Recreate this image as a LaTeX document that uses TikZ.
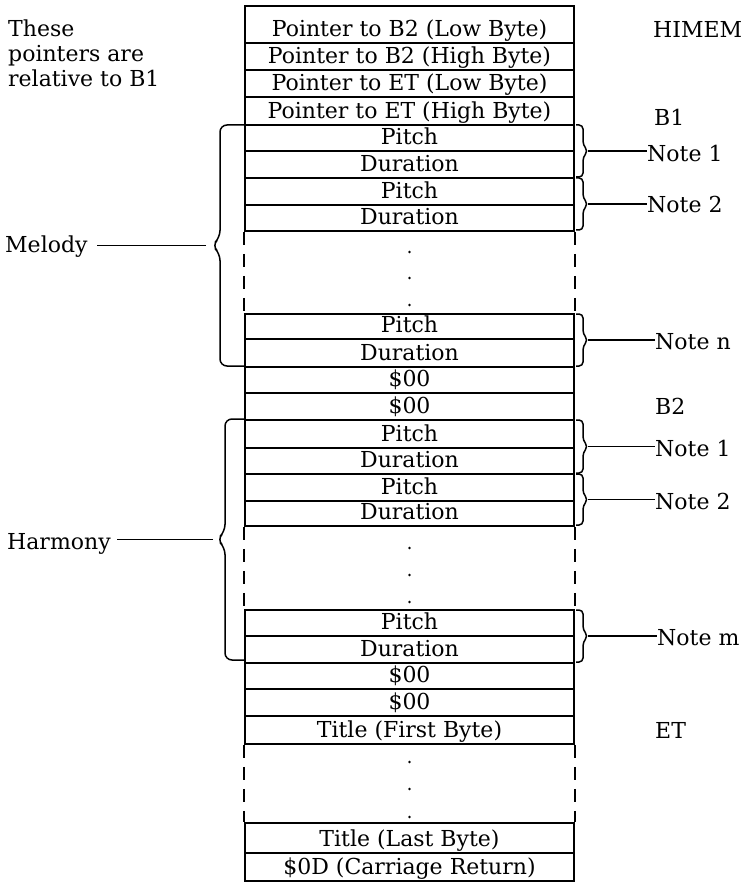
\documentclass[tikz,border=0pt]{standalone}
\usepackage{fontspec}
\setmainfont{DejaVu Serif}
\begin{document}
\begin{tikzpicture}[x=1pt,y=-1pt,
  txt/.style={font=\fontsize{22}{25}\selectfont},
  cell/.style={txt, draw, line width=1.8pt, minimum width=329pt, inner sep=0pt, anchor=north, text depth=6pt},
  lbl/.style={txt, inner sep=0pt, anchor=base west},
  side/.style={line width=1.8pt, dash pattern=on 13pt off 9pt},
  brc/.style={line width=1.5pt, rounded corners=4pt},
  bigbrc/.style={line width=1.5pt, rounded corners=7pt},
  conn/.style={line width=1.3pt},
  dot/.style={circle, fill, inner sep=0pt, minimum size=2.8pt}
]
\useasboundingbox (0,0) rectangle (746,882);
\def\cx{409.5}
% ---- memory cells ----
\node[cell, text height=31pt] (r1) at (\cx,5) {Pointer to B2 (Low Byte)};
\node[cell, text height=21pt] (r2) at (\cx,42) {Pointer to B2 (High Byte)};
\node[cell, text height=21pt] (r3) at (\cx,69) {Pointer to ET (Low Byte)};
\node[cell, text height=22pt] (r4) at (\cx,96) {Pointer to ET (High Byte)};
\node[cell, text height=20pt] (r5) at (\cx,124) {Pitch};
\node[cell, text height=21pt] (r6) at (\cx,150) {Duration};
\node[cell, text height=21pt] (r7) at (\cx,177) {Pitch};
\node[cell, text height=20pt] (r8) at (\cx,204) {Duration};
\node[cell, text height=19pt] (r9) at (\cx,313) {Pitch};
\node[cell, text height=22pt] (r10) at (\cx,338) {Duration};
\node[cell, text height=20pt] (r11) at (\cx,366) {\$00};
\node[cell, text height=21pt] (r12) at (\cx,392) {\$00};
\node[cell, text height=22pt] (r13) at (\cx,419) {Pitch};
\node[cell, text height=20pt] (r14) at (\cx,447) {Duration};
\node[cell, text height=21pt] (r15) at (\cx,473) {Pitch};
\node[cell, text height=19pt] (r16) at (\cx,500) {Duration};
\node[cell, text height=20pt] (r17) at (\cx,609) {Pitch};
\node[cell, text height=21pt] (r18) at (\cx,635) {Duration};
\node[cell, text height=20pt] (r19) at (\cx,662) {\$00};
\node[cell, text height=21pt] (r20) at (\cx,688) {\$00};
\node[cell, text height=22pt] (r21) at (\cx,715) {Title (First Byte)};
\node[cell, text height=24pt] (r22) at (\cx,822) {Title (Last Byte)};
\node[cell, text height=22pt] (r23) at (\cx,852) {\$0D (Carriage Return)};
% ---- dashed gaps ----
\foreach \a/\b in {r8/r9, r16/r17, r21/r22}{
  \draw[side] (\a.south west) -- (\b.north west);
  \draw[side] (\a.south east) -- (\b.north east);
}
% ---- ellipsis dots ----
\foreach \y [count=\i] in {252,278,305,548,575,602,762,789,817}
  \node[dot] (d\i) at (\cx,\y) {};
% ---- left text ----
\node[lbl] (t1) at (8,37) {These};
\node[lbl] (t2) at (8,62) {pointers are};
\node[lbl] (t3) at (8,87) {relative to B1};
% ---- address labels ----
\node[lbl] (himem) at (653,38) {HIMEM};
\node[lbl] (b1) at (654,126) {B1};
\node[lbl] (b2) at (655,414) {B2};
\node[lbl] (et) at (655,738) {ET};
% ---- right braces (notes) ----
\newcommand\rbr[3]{%
  \draw[brc] (576,#1) -- (583,#1) -- (583,{(#1+#2)/2-6}) -- (588,{(#1+#2)/2}) -- (583,{(#1+#2)/2+6}) -- (583,#2) -- (576,#2);
  \coordinate (#3) at (588,{(#1+#2)/2});}
\rbr{125}{177}{tn1}
\rbr{178}{230}{tn2}
\rbr{314}{366}{tnn}
\rbr{420}{473}{th1}
\rbr{474}{525}{th2}
\rbr{610}{662}{thm}
\node[lbl] (n1) at (647,162) {Note 1};
\node[lbl] (n2) at (647,213) {Note 2};
\node[lbl] (nn) at (655,349) {Note n};
\node[lbl] (h1) at (655,456) {Note 1};
\node[lbl] (h2) at (655,509) {Note 2};
\node[lbl] (hm) at (657,645) {Note m};
\foreach \t/\n in {tn1/n1, tn2/n2, tnn/nn, th1/h1, th2/h2, thm/hm}
  \draw[conn] (\t) -- (\t -| \n.west);
% ---- left braces (melody, harmony) ----
\newcommand\lbr[4]{%
  \draw[bigbrc] (244,#1) -- (#3,#1) -- (#3,{(#1+#2)/2-8}) -- ({#3-8},{(#1+#2)/2}) -- (#3,{(#1+#2)/2+8}) -- (#3,#2) -- (244,#2);
  \coordinate (#4) at ({#3-8},{(#1+#2)/2});}
\lbr{125}{366}{220}{mtip}
\lbr{419}{660}{225}{htip}
\node[lbl] (mel) at (5,253) {Melody};
\node[lbl] (har) at (7,549) {Harmony};
\draw[conn, shorten <=6pt, shorten >=9pt] (mtip) -- (mtip -| mel.east);
\draw[conn, shorten <=4pt, shorten >=6pt] (htip) -- (htip -| har.east);
\end{tikzpicture}
\end{document}
